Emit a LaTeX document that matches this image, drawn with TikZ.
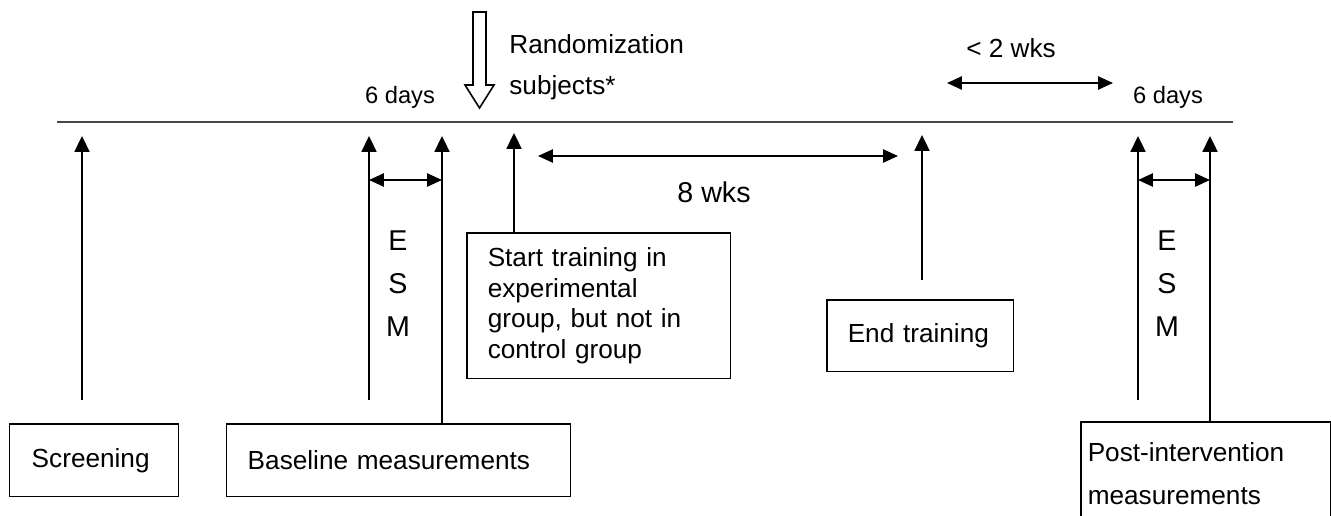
\documentclass[tikz,border=0pt]{standalone}
\usepackage{fontspec}
\setmainfont{Liberation Sans}
\usetikzlibrary{arrows.meta,positioning}
\newcommand{\fsmain}{\fontsize{14.9pt}{17.6pt}\selectfont}
\newcommand{\fssmall}{\fontsize{13.5pt}{16pt}\selectfont}
\newcommand{\fsbig}{\fontsize{16.3pt}{24.4pt}\selectfont}

\begin{document}
\begin{tikzpicture}[x=0.02cm, y=-0.02cm]
\tikzstyle{box}=[rectangle, draw=black, line width=0.85pt, anchor=north west, align=left, inner ysep=0pt, font=\fsmain]
\tikzstyle{tick}=[-{Triangle[length=9pt,width=8.5pt]}, line width=1.1pt]
\tikzstyle{span}=[{Triangle[length=8.5pt,width=7.5pt]}-{Triangle[length=8.5pt,width=7.5pt]}, line width=1.1pt]
\tikzstyle{label}=[inner sep=0pt]
\clip (0,0) rectangle (1331,515);
\coordinate (tl) at (57,122);
\coordinate (tr) at (1233,122);
\draw[black!72, line width=0.7pt] (tl) -- (tr);
\node (screen) [box, minimum height=1.46cm, text width=2.5cm, inner xsep=0.44cm] at (9,423) {Screening};
\node (base) [box, minimum height=1.46cm, text width=6.04cm, inner xsep=0.42cm] at (226,423) {Baseline measurements};
\node (start) [box, minimum height=2.92cm, text width=4.44cm, inner xsep=0.42cm] at (466,232) {Start training in\\experimental\\group, but not in\\control group};
\node (end) [box, minimum height=1.44cm, text width=2.9cm, inner xsep=0.42cm] at (826,299) {End training};
\node (post) [box, text width=4.72cm, inner xsep=0.14cm, inner ysep=0.42cm, font=\fontsize{14.9pt}{24.4pt}\selectfont] at (1080,421) {Post-intervention\\measurements\\[0.6cm]};
\node (esmA) [label, align=center, font=\fsbig] at (398,284) {E\\S\\M};
\node (esmB) [label, align=center, font=\fsbig] at (1167,284) {E\\S\\M};
\node (daysA) [label, font=\fssmall] at (400,97) {6 days};
\node (daysB) [label, font=\fssmall] at (1168,97) {6 days};
\node (wks2) [label, font=\fsmain] at (1011,48) {< 2 wks};
\node (wks8) [label, font=\fsbig] at (714,192) {8 wks};
\node (rand) [label, anchor=west, align=left, font=\fontsize{14.9pt}{23.2pt}\selectfont] at (509,67.5) {Randomization\\subjects*};
\draw[line width=0.9pt, line join=miter] (473,12) -- (486,12) -- (486,85) -- (494,85) -- (479.5,108) -- (465,85) -- (473,85) -- cycle;
\coordinate (s0) at (82,400);
\coordinate (s1) at (82,136);
\coordinate (b0) at (369,400);
\coordinate (b1) at (369,136);
\coordinate (b2) at (442,136);
\coordinate (st) at (514,133);
\coordinate (e0) at (922,280);
\coordinate (e1) at (922,135);
\coordinate (p0) at (1138,400);
\coordinate (p1) at (1138,136);
\coordinate (p2) at (1210,136);
\draw[tick] (s0) -- (s1);
\draw[tick] (b0) -- (b1);
\draw[tick] (base.north -| b2) -- (b2);
\draw[tick] (start.north -| st) -- (st);
\draw[tick] (e0) -- (e1);
\draw[tick] (p0) -- (p1);
\draw[tick] (post.north -| p2) -- (p2);
\coordinate (d1) at (369,180);
\coordinate (d2) at (442,180);
\coordinate (d3) at (1138,180);
\coordinate (d4) at (1210,180);
\coordinate (w1) at (538,156);
\coordinate (w2) at (898,156);
\coordinate (v1) at (947,83);
\coordinate (v2) at (1113,83);
\draw[span] (d1) -- (d2);
\draw[span] (d3) -- (d4);
\draw[span] (w1) -- (w2);
\draw[span] (v1) -- (v2);
\end{tikzpicture}
\end{document}
